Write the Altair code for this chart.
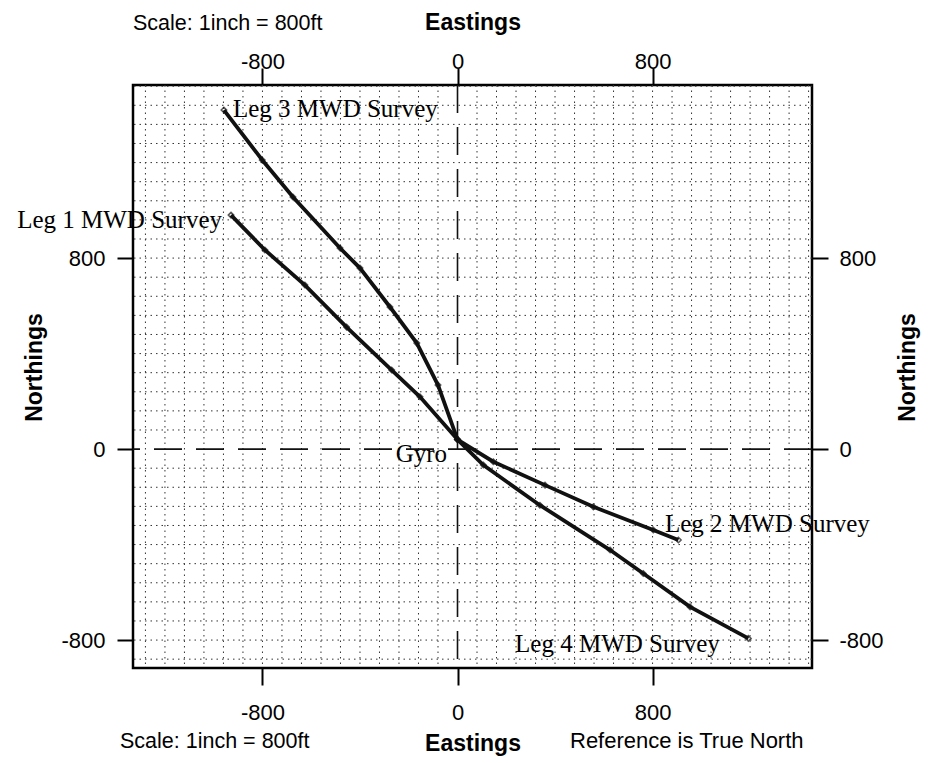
import altair as alt
import pandas as pd

# ---- survey data (Eastings / Northings, ft) ----
leg1_e = [-929, -790, -626, -455, -270, -154, 0]
leg1_n = [980, 834, 687, 511, 331, 219, 40]
leg2_e = [0, 147, 359, 557, 803, 906]
leg2_n = [40, -53, -151, -242, -339, -381]
leg3_e = [-958, -801, -675, -482, -400, -277, -167, -80, 0]
leg3_n = [1420, 1211, 1056, 842, 758, 595, 444, 268, 40]
leg4_e = [0, 106, 338, 626, 762, 954, 1193]
leg4_n = [40, -67, -235, -423, -521, -661, -793]

label_text = ["Leg 1 MWD Survey", "Leg 2 MWD Survey", "Leg 3 MWD Survey", "Leg 4 MWD Survey", "Gyro"]
label_e = [-966, 851, -921, 236, -43]
label_n = [926, -348, 1391, -850, -54]
label_side = ["right", "left", "left", "left", "right"]

tick_values = [-800, 0, 800]
grid_e = [v for v in range(-1280, 1441, 80) if v != 0]
grid_n = [v for v in range(-880, 1521, 80) if v != 0]

rows = []
for name, es, ns in [("Leg 1", leg1_e, leg1_n), ("Leg 2", leg2_e, leg2_n),
                     ("Leg 3", leg3_e, leg3_n), ("Leg 4", leg4_e, leg4_n)]:
    for i, (e, n) in enumerate(zip(es, ns)):
        rows.append({"leg": name, "seq": i, "E": e, "N": n})
legs = pd.DataFrame(rows)
labels = pd.DataFrame({"text": label_text, "E": label_e, "N": label_n, "side": label_side})

xs = alt.Scale(domain=[-1331, 1454], nice=False, zero=False)
ys = alt.Scale(domain=[-917, 1525], nice=False, zero=False)

SANS = "Liberation Sans"
SERIF = "Liberation Serif"

gx = alt.Chart(pd.DataFrame({"g": grid_e})).mark_rule(
    color="#333", strokeDash=[1.5, 4], strokeWidth=1
).encode(x=alt.X("g:Q", scale=xs, axis=None))
gy = alt.Chart(pd.DataFrame({"g": grid_n})).mark_rule(
    color="#333", strokeDash=[1.5, 4], strokeWidth=1
).encode(y=alt.Y("g:Q", scale=ys, axis=None))

zx = alt.Chart(pd.DataFrame({"z": [0]})).mark_rule(
    color="#111", strokeDash=[28, 14], strokeWidth=1.6
).encode(x=alt.X("z:Q", scale=xs, axis=None))
zy = alt.Chart(pd.DataFrame({"z": [0]})).mark_rule(
    color="#111", strokeDash=[28, 14], strokeWidth=1.6
).encode(y=alt.Y("z:Q", scale=ys, axis=None))

axis_common = dict(values=tick_values, grid=False, domain=False, tickWidth=2,
                   tickColor="black", labelColor="black", labelFontSize=22,
                   labelFont=SANS, titleFont=SANS, titleFontSize=23,
                   titleFontWeight="bold", titleColor="black",
                   labelExpr="datum.value + ''")

lines = alt.Chart(legs).mark_line(color="#111", strokeWidth=3.8).encode(
    x=alt.X("E:Q", scale=xs, axis=alt.Axis(orient="bottom", title="Eastings", tickSize=17,
                                            labelPadding=17, titleBaseline="alphabetic",
                                            titleY=82, **axis_common)),
    y=alt.Y("N:Q", scale=ys, axis=alt.Axis(orient="left", title="Northings", tickSize=16,
                                            labelPadding=12, titleAngle=270,
                                            titleBaseline="alphabetic", titleX=-92,
                                            titleY=282, **axis_common)),
    detail="leg:N",
    order="seq:Q",
)

pts = alt.Chart(legs).mark_point(shape="diamond", size=30, color="#111",
                                 strokeWidth=1.5, filled=False).encode(
    x=alt.X("E:Q", scale=xs, axis=None),
    y=alt.Y("N:Q", scale=ys, axis=None),
)

axes2 = alt.Chart(legs).mark_point(opacity=0).encode(
    x=alt.X("E:Q", scale=xs, axis=alt.Axis(orient="top", title="Eastings", tickSize=17,
                                            labelPadding=0, labelBaseline="alphabetic",
                                            titleBaseline="alphabetic", titleY=-56,
                                            **axis_common)),
    y=alt.Y("N:Q", scale=ys, axis=alt.Axis(orient="right", title="Northings", tickSize=16,
                                            labelPadding=11, titleAngle=270,
                                            titleBaseline="alphabetic", titleX=102,
                                            titleY=282, **axis_common)),
)

txt_left = alt.Chart(labels).transform_filter(alt.datum.side == "left").mark_text(
    font=SERIF, fontSize=25, align="left", baseline="alphabetic", color="black"
).encode(x=alt.X("E:Q", scale=xs, axis=None), y=alt.Y("N:Q", scale=ys, axis=None), text="text:N")
txt_right = alt.Chart(labels).transform_filter(alt.datum.side == "right").mark_text(
    font=SERIF, fontSize=25, align="right", baseline="alphabetic", color="black"
).encode(x=alt.X("E:Q", scale=xs, axis=None), y=alt.Y("N:Q", scale=ys, axis=None), text="text:N")

one = pd.DataFrame({"k": [0]})
note_scale_top = alt.Chart(one).mark_text(font=SANS, fontSize=21.5, align="left",
                                          baseline="alphabetic", color="black",
                                          text="Scale: 1inch = 800ft").encode(
    x=alt.value(0), y=alt.value(-55))
note_scale_bot = alt.Chart(one).mark_text(font=SANS, fontSize=21.5, align="left",
                                          baseline="alphabetic", color="black",
                                          text="Scale: 1inch = 800ft").encode(
    x=alt.value(-13), y=alt.value(663))
note_ref = alt.Chart(one).mark_text(font=SANS, fontSize=22, align="left",
                                    baseline="alphabetic", color="black",
                                    text="Reference is True North").encode(
    x=alt.value(437), y=alt.value(663))

chart = alt.layer(
    gx, gy, zx, zy, lines, pts, axes2, txt_left, txt_right,
    note_scale_top, note_scale_bot, note_ref
).resolve_axis(x="independent", y="independent").properties(
    width=679, height=583,
    autosize=alt.AutoSizeParams(type="none"),
    padding={"left": 125, "top": 77, "right": 110, "bottom": 92},
    background="white",
).configure_view(stroke="black", strokeWidth=2.5)

chart.save("out.html", embed_options={"renderer": "svg", "actions": False})
